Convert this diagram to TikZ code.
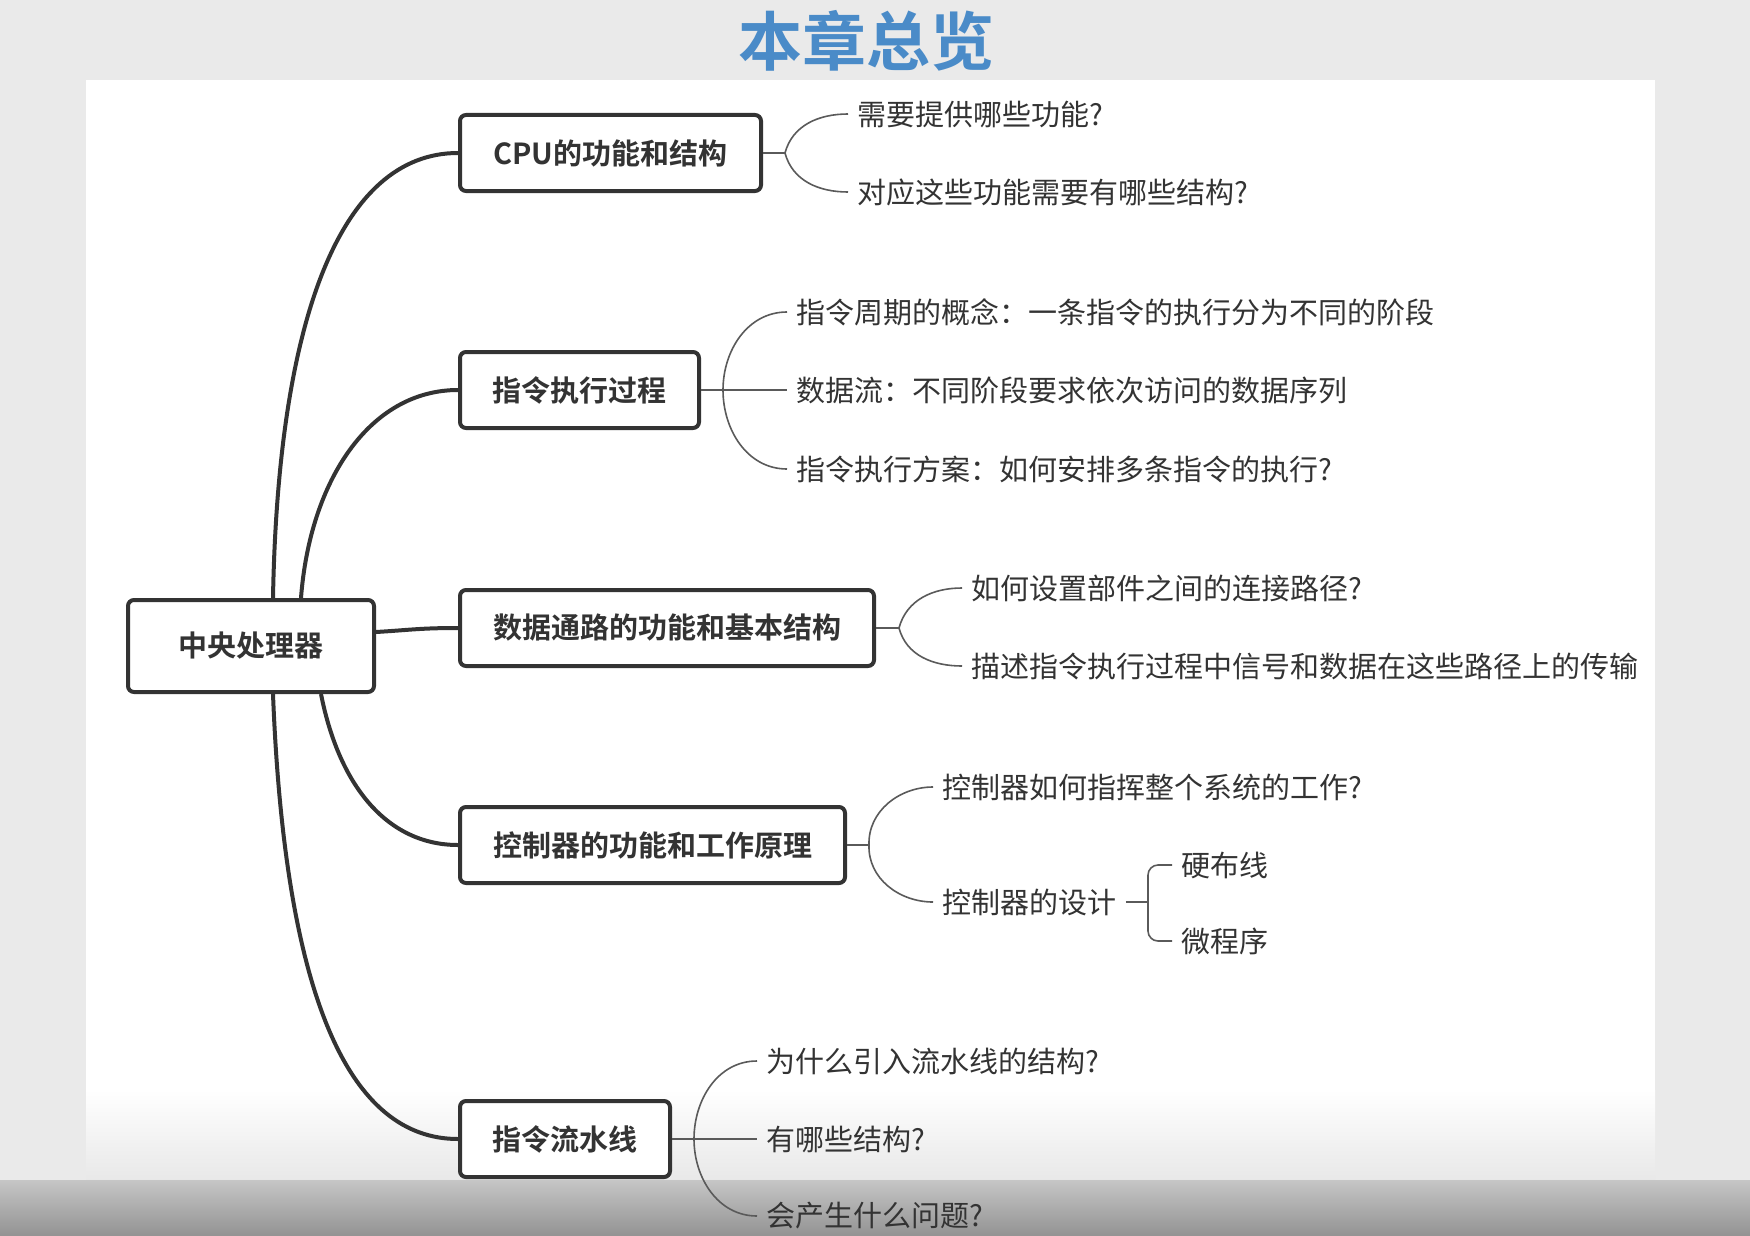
\documentclass[tikz,border=0pt]{standalone}
\usepackage{fontspec}
\setmainfont{Noto Sans CJK SC}[BoldFont={Noto Sans CJK SC Bold}]
\definecolor{ink}{HTML}{333333}
\definecolor{twiggray}{HTML}{5A5A5A}
\definecolor{titleblue}{HTML}{4A8BC8}
\definecolor{backgray}{HTML}{EAEAEA}
\begin{document}
\begin{tikzpicture}[x=0.5pt,y=-0.5pt,
    topic/.style={draw=ink, line width=2pt, rounded corners=3pt, fill=white, font=\fontsize{14.5pt}{17pt}\selectfont\bfseries, text=ink, minimum height=38pt, inner sep=0pt},
    leaf/.style={anchor=west, inner xsep=4.5pt, inner ysep=2pt, font=\fontsize{14.5pt}{17pt}\selectfont, text=ink},
    branch/.style={draw=ink, line width=2pt},
    twig/.style={draw=twiggray, line width=0.8pt}]
    \useasboundingbox (0,0) rectangle (1750,1236);
    \fill[backgray] (0,0) rectangle (1750,1236);
    \fill[white] (86,80) rectangle (1655,1236);
    \shade[top color=white, bottom color=gray!18] (86,1090) rectangle (1655,1180);
    \shade[top color=gray!45, bottom color=gray!85] (0,1180) rectangle (1750,1236);
    \node[font=\fontsize{32pt}{36pt}\selectfont\bfseries, text=titleblue] (title) at (866,41) {本章总览};
    \node[topic, minimum width=123pt, minimum height=46pt] (core) at (251,646) {中央处理器};
    \node[topic, minimum width=150.5pt] (struct) at (610.5,153) {CPU的功能和结构};
    \node[topic, minimum width=119.5pt] (exec) at (579.5,390) {指令执行过程};
    \node[topic, minimum width=207pt] (path) at (667,628) {数据通路的功能和基本结构};
    \node[topic, minimum width=192.5pt] (ctrl) at (652.5,845) {控制器的功能和工作原理};
    \node[topic, minimum width=105pt] (pipe) at (565,1139) {指令流水线};
    \draw[branch] ([xshift=11pt]core.north) .. controls (278,320) and (340,153) .. (struct.west);
    \draw[branch] ([xshift=25pt]core.north) .. controls (310,480) and (370,390) .. (exec.west);
    \draw[branch] ([yshift=7pt]core.east) .. controls (410,630) and (420,628) .. (path.west);
    \draw[branch] ([xshift=35pt]core.south) .. controls (340,790) and (390,845) .. (ctrl.west);
    \draw[branch] ([xshift=11pt]core.south) .. controls (285,1000) and (350,1139) .. (pipe.west);
    \node[leaf] (struct-a) at (848,114) {需要提供哪些功能?};
    \node[leaf] (struct-b) at (848,192) {对应这些功能需要有哪些结构?};
    \node[leaf] (exec-a) at (787,312) {指令周期的概念：一条指令的执行分为不同的阶段};
    \node[leaf] (exec-b) at (787,390) {数据流：不同阶段要求依次访问的数据序列};
    \node[leaf] (exec-c) at (787,469) {指令执行方案：如何安排多条指令的执行?};
    \node[leaf] (path-a) at (962,588) {如何设置部件之间的连接路径?};
    \node[leaf] (path-b) at (962,666) {描述指令执行过程中信号和数据在这些路径上的传输};
    \node[leaf] (ctrl-a) at (933,787) {控制器如何指挥整个系统的工作?};
    \node[leaf] (ctrl-b) at (933,902) {控制器的设计};
    \node[leaf] (hard) at (1172,865) {硬布线};
    \node[leaf] (micro) at (1172,941) {微程序};
    \node[leaf] (pipe-a) at (757,1061) {为什么引入流水线的结构?};
    \node[leaf] (pipe-b) at (757,1139) {有哪些结构?};
    \node[leaf] (pipe-c) at (757,1216) {会产生什么问题?};
    \coordinate (struct-f) at (785,153);
    \coordinate (exec-f) at (723,390);
    \coordinate (path-f) at (899,628);
    \coordinate (ctrl-f) at (869,845);
    \coordinate (design-f) at (1148,902);
    \coordinate (pipe-f) at (694,1139);
    \draw[twig] (struct.east) -- (struct-f) to[out=75,in=180] (struct-a.west);
    \draw[twig] (struct-f) to[out=-75,in=180] (struct-b.west);
    \draw[twig] (exec.east) -- (exec-b.west);
    \draw[twig] (exec-f) to[out=90,in=180] (exec-a.west);
    \draw[twig] (exec-f) to[out=-90,in=180] (exec-c.west);
    \draw[twig] (path.east) -- (path-f) to[out=75,in=180] (path-a.west);
    \draw[twig] (path-f) to[out=-75,in=180] (path-b.west);
    \draw[twig] (ctrl.east) -- (ctrl-f) to[out=92,in=180] (ctrl-a.west);
    \draw[twig] (ctrl-f) to[out=-92,in=180] (ctrl-b.west);
    \draw[twig] (ctrl-b.east) -- (design-f);
    \draw[twig, rounded corners=5pt] (design-f) |- (hard.west);
    \draw[twig, rounded corners=5pt] (design-f) |- (micro.west);
    \draw[twig] (pipe.east) -- (pipe-b.west);
    \draw[twig] (pipe-f) to[out=90,in=180] (pipe-a.west);
    \draw[twig] (pipe-f) to[out=-90,in=180] (pipe-c.west);
\end{tikzpicture}
\end{document}
